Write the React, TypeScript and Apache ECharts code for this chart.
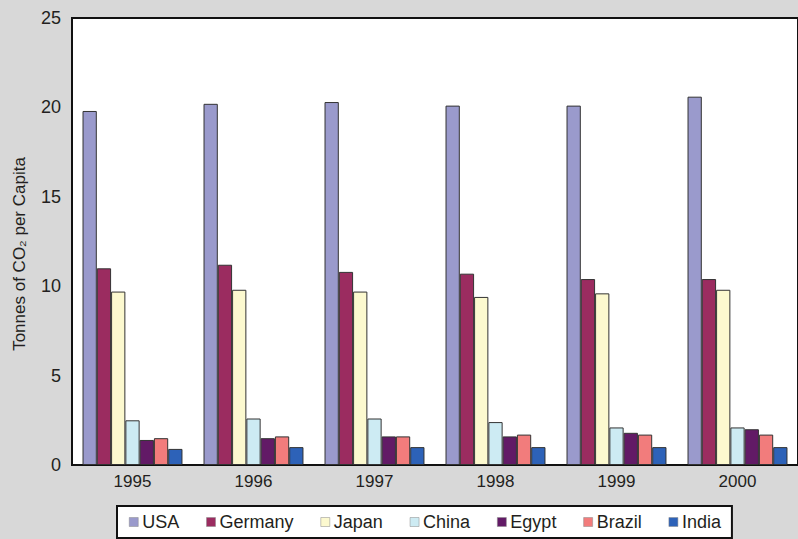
import React, { useEffect, useRef } from "react";
import * as echarts from "echarts";

const years = ["1995", "1996", "1997", "1998", "1999", "2000"];
const countries = ["USA", "Germany", "Japan", "China", "Egypt", "Brazil", "India"];
const colors = ["#9a9acc", "#9b2c60", "#fcf9cf", "#cdebf3", "#621a66", "#f27c7c", "#2d62b8"];

const usa = [19.8, 20.2, 20.3, 20.1, 20.1, 20.6];
const germany = [11.0, 11.2, 10.8, 10.7, 10.4, 10.4];
const japan = [9.7, 9.8, 9.7, 9.4, 9.6, 9.8];
const china = [2.5, 2.6, 2.6, 2.4, 2.1, 2.1];
const egypt = [1.4, 1.5, 1.6, 1.6, 1.8, 2.0];
const brazil = [1.5, 1.6, 1.6, 1.7, 1.7, 1.7];
const india = [0.9, 1.0, 1.0, 1.0, 1.0, 1.0];

const seriesData = [usa, germany, japan, china, egypt, brazil, india];
const yTicks = [0, 5, 10, 15, 20, 25];

const FONT = "'Liberation Sans', Arial, Helvetica, sans-serif";
const TEXT = "#231f20";

export default function App() {
  const ref = useRef<HTMLDivElement>(null);
  useEffect(() => {
    if (!ref.current) return;
    const chart = echarts.init(ref.current, undefined, { renderer: "svg" });
    chart.setOption({
      animation: false,
      backgroundColor: "#d8d8d8",
      textStyle: { fontFamily: FONT },
      grid: {
        left: 72,
        top: 18,
        bottom: 74,
        width: 734,
        show: true,
        backgroundColor: "#ffffff",
        borderColor: "#111111",
        borderWidth: 2,
        containLabel: false,
      },
      xAxis: {
        type: "category",
        data: years,
        axisLine: { show: true, lineStyle: { color: "#111111", width: 2 } },
        axisTick: { show: false },
        axisLabel: { color: TEXT, fontSize: 17, margin: 8, fontFamily: FONT },
        splitLine: { show: false },
      },
      yAxis: {
        type: "value",
        min: yTicks[0],
        max: yTicks[yTicks.length - 1],
        interval: 5,
        axisLine: { show: true, lineStyle: { color: "#111111", width: 2 } },
        axisTick: { show: false },
        axisLabel: { color: TEXT, fontSize: 18, margin: 11, fontFamily: FONT },
        splitLine: { show: false },
      },
      legend: {
        data: countries,
        left: 117,
        top: 506,
        orient: "horizontal",
        padding: [7, 11, 7, 12],
        itemGap: 27,
        itemWidth: 9,
        itemHeight: 9,
        backgroundColor: "#ffffff",
        borderColor: "#111111",
        borderWidth: 2,
        borderRadius: 0,
        icon: "rect",
        textStyle: { color: TEXT, fontSize: 18, fontFamily: FONT, padding: [0, 0, 0, -1] },
        itemStyle: { borderColor: "#888888", borderWidth: 0.5 },
      },
      graphic: [
        {
          type: "text",
          x: 19,
          y: 254,
          rotation: Math.PI / 2,
          style: {
            text: "Tonnes of CO₂ per Capita",
            fontSize: 17,
            fontFamily: FONT,
            fill: TEXT,
            textAlign: "center",
            textVerticalAlign: "middle",
          },
        },
      ],
      series: countries.map((name, i) => ({
        name,
        type: "bar",
        data: seriesData[i],
        barGap: "0%",
        barCategoryGap: "17.4%",
        itemStyle: { color: colors[i], borderColor: "#333333", borderWidth: 1 },
      })),
    });
    return () => chart.dispose();
  }, []);
  return (
    <div
      ref={ref}
      style={{ position: "absolute", left: 0, top: 0, width: 798, height: 539 }}
    />
  );
}
